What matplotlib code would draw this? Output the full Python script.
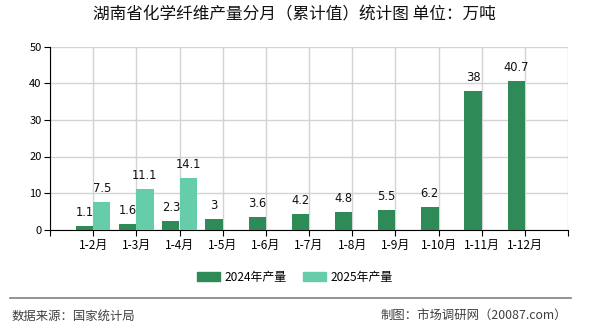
import matplotlib
matplotlib.use("Agg")
import matplotlib.pyplot as plt
from matplotlib.patches import Patch
from matplotlib.lines import Line2D

plt.rcParams['font.family'] = ['Noto Sans CJK SC', 'DejaVu Sans']

# 数据
months = ["1-2月", "1-3月", "1-4月", "1-5月", "1-6月", "1-7月",
          "1-8月", "1-9月", "1-10月", "1-11月", "1-12月"]
v2024 = [1.1, 1.6, 2.3, 3, 3.6, 4.2, 4.8, 5.5, 6.2, 38, 40.7]
v2025 = [7.5, 11.1, 14.1]

c2024 = "#2e8b57"
c2025 = "#66cdaa"

fig = plt.figure(figsize=(5.9, 3.3), dpi=100)
ax = fig.add_axes([50 / 590, 1 - 229.7 / 330, 518 / 590, 183 / 330])

x24 = list(range(1, len(v2024) + 1))
x25 = list(range(1, len(v2025) + 1))
w = 0.4
b1 = ax.bar([x - w / 2 for x in x24], v2024, width=w, color=c2024, zorder=3)
b2 = ax.bar([x + w / 2 for x in x25], v2025, width=w, color=c2025, zorder=3)

for bars, vals in ((b1, v2024), (b2, v2025)):
    for r, v in zip(bars, vals):
        ax.annotate(f"{v:g}", (r.get_x() + r.get_width() / 2, v),
                    xytext=(0, 5), textcoords="offset points",
                    ha="center", va="bottom", fontsize=8.3,
                    family=["DejaVu Sans"], color="#111111")

ax.set_xlim(0, 12)
ax.set_ylim(0, 50)
ax.set_xticks(range(0, 13))
ax.set_xticklabels([""] + months + [""], fontsize=8.6)
ax.set_yticks(range(0, 51, 10))
ax.tick_params(axis="y", labelsize=8, length=4, pad=2)
ax.tick_params(axis="x", length=4, pad=3)
ax.grid(True, color="#d3d3d3", linewidth=1, zorder=0)
ax.spines["top"].set_visible(False)
ax.spines["right"].set_visible(False)
ax.spines["left"].set_color("black")
ax.spines["bottom"].set_color("black")

fig.text(294 / 590, 1 - 15 / 330, "湖南省化学纤维产量分月（累计值）统计图 单位：万吨",
         ha="center", va="center", fontsize=12, color="#111111")

handles = [Patch(color=c2024, label="2024年产量"),
           Patch(color=c2025, label="2025年产量")]
fig.legend(handles=handles, loc="center", bbox_to_anchor=(0.5, 1 - 277 / 330),
           ncol=2, frameon=False, fontsize=8.6, handlelength=1.9,
           handleheight=0.8, columnspacing=1.4, handletextpad=0.4)

fig.add_artist(Line2D([10 / 590, 571 / 590], [1 - 298 / 330, 1 - 298 / 330],
                      color="#808080", linewidth=1.2))
fig.text(12 / 590, 1 - 316.7 / 330, "数据来源：国家统计局", ha="left", va="center",
         fontsize=8.9, color="#404040")
fig.text(567 / 590, 1 - 316.7 / 330, "制图：市场调研网（20087.com）", ha="right",
         va="center", fontsize=8.9, color="#404040")

fig.savefig("out.png", dpi=100)
